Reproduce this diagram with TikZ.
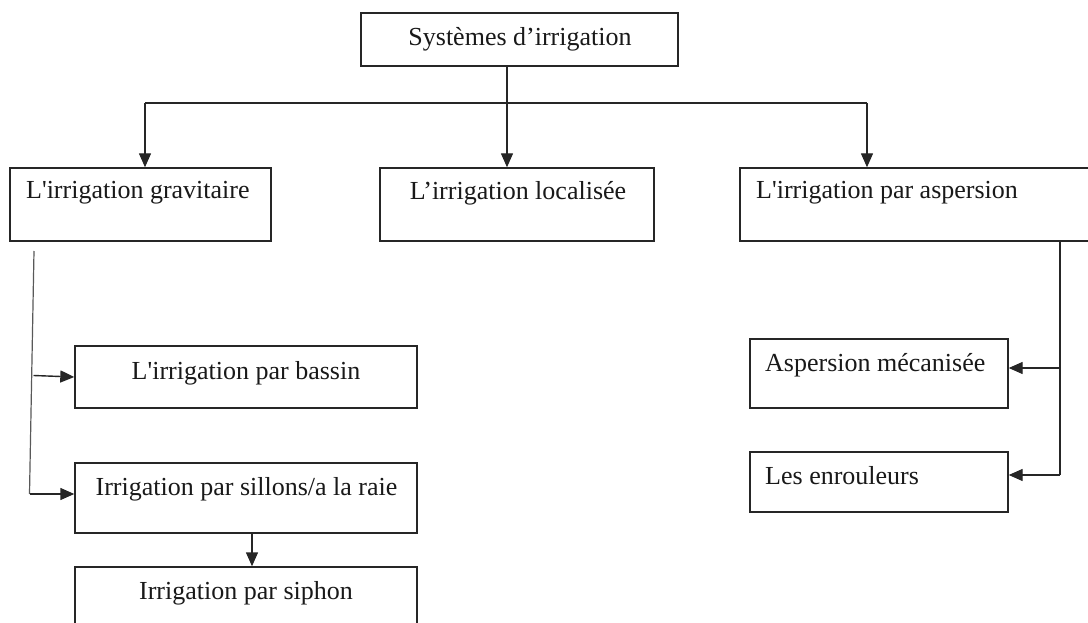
\documentclass[tikz,border=0pt]{standalone}
\usepackage{fontspec}
\setmainfont{Liberation Serif}
\usetikzlibrary{arrows.meta}
\newcommand{\apos}{\textquotesingle}
\begin{document}
\begin{tikzpicture}[x=1pt,y=-1pt,
  box/.style={draw=black!85,line width=1.4pt,minimum width=#1,inner sep=0pt},
  txt/.style={font=\fontsize{26}{30}\selectfont,inner sep=0pt,text=black!90},
  ln/.style={line width=1.4pt,draw=black!85},
  arr/.style={ln,-{Triangle[length=14pt,width=12pt]}}]
\useasboundingbox[fill=white] (0,0) rectangle (1088,623);
% boxes
\node[box=317pt,minimum height=53pt] (top) at (519.5,39.5) {};
\node[box=261pt,minimum height=73pt] (grav) at (140.5,204.5) {};
\node[box=274pt,minimum height=73pt] (loc) at (517,204.5) {};
\node[box=355pt,minimum height=73pt] (asp) at (917.5,204.5) {};
\node[box=342pt,minimum height=62pt] (bas) at (246,377) {};
\node[box=342pt,minimum height=70pt] (sil) at (246,498) {};
\node[box=342pt,minimum height=63pt] (sip) at (246,598.5) {};
\node[box=258pt,minimum height=69pt] (aspm) at (879,373.5) {};
\node[box=258pt,minimum height=60pt] (enr) at (879,482) {};
% texts
\node[txt,anchor=base] (ttop) at (520,46) {Systèmes d’irrigation};
\node[txt,anchor=base west] (tgrav) at (26,199) {L\apos irrigation gravitaire};
\node[txt,anchor=base] (tloc) at (518,200) {L’irrigation localisée};
\node[txt,anchor=base west] (tasp) at (756,199) {L\apos irrigation par aspersion};
\node[txt,anchor=base] (tbas) at (246,379) {L\apos irrigation par bassin};
\node[txt,anchor=base] (tsil) at (246.5,495) {Irrigation par sillons/a la raie};
\node[txt,anchor=base] (tsip) at (246,599) {Irrigation par siphon};
\node[txt,anchor=base west] (taspm) at (765,371.5) {Aspersion mécanisée};
\node[txt,anchor=base west] (tenr) at (765,484) {Les enrouleurs};
% top connectors
\coordinate (jm) at (507,103);
\coordinate (jl) at (145,103);
\coordinate (jr) at (867,103);
\draw[ln] (top.south -| jm) -- (jm);
\draw[ln] (jl) -- (jr);
\draw[arr] (jl) -- (jl |- grav.north);
\draw[arr] (jm) -- (jm |- loc.north);
\draw[arr] (jr) -- (jr |- asp.north);
% left trunk
\coordinate (lt) at (34,251);
\coordinate (lb) at (29.5,494);
\coordinate (lm) at (33.5,375.5);
\draw[ln,draw=black!65,line width=1.2pt] (lt) -- (lb);
\draw[arr] (lm) -- (bas.west);
\draw[arr] (lb) -- (lb -| sil.west);
\draw[arr] (sil.south -| 252,0) -- (sip.north -| 252,0);
% right trunk
\coordinate (rt) at (1060,241);
\coordinate (rb) at (1060,475);
\draw[ln] (rt) -- (rb);
\draw[arr] (rt |- 0,368) -- (aspm.east |- 0,368);
\draw[arr] (rb) -- (rb -| enr.east);
\end{tikzpicture}
\end{document}
